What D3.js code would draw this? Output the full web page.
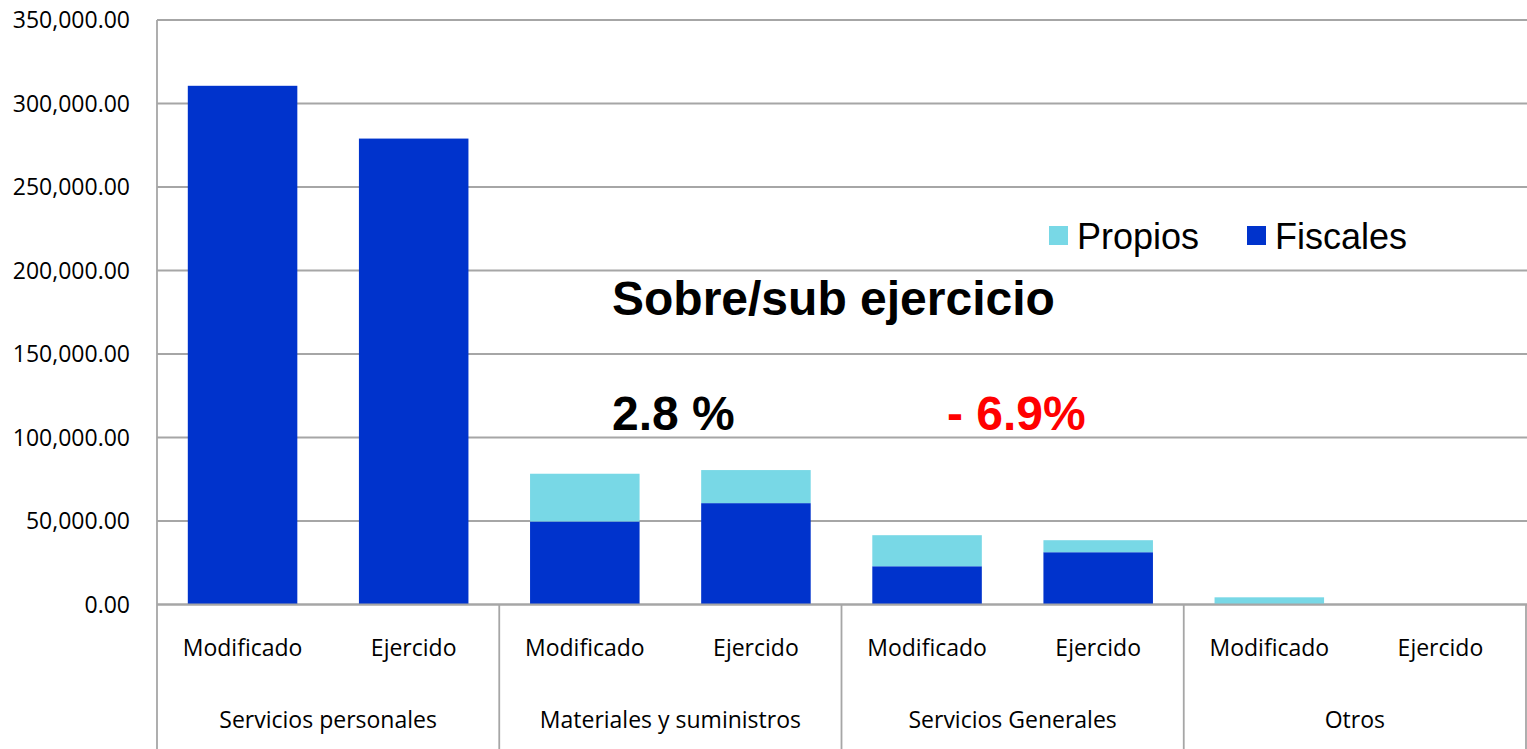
<!DOCTYPE html>
<html lang="es">
<head>
  <meta charset="UTF-8">
  <title>Sobre/sub ejercicio</title>
  <style>
    body { margin: 0; background: #fff; }
    .tick-label { font-family: "Open Sans", sans-serif; font-size: 23px; fill: #000; }
    .cat-label { font-family: "Open Sans", sans-serif; font-size: 23px; fill: #000; }
    .legend-label { font-family: "Liberation Sans", Arial, sans-serif; font-size: 36px; fill: #000; }
    .note { font-family: "Liberation Sans", Arial, sans-serif; font-size: 48px; font-weight: bold; }
  </style>
</head>
<body>
  <div id="chart"></div>
  <script src="https://d3js.org/d3.v7.min.js"></script>
  <script>
    // chart values
    const groups = ["Servicios personales", "Materiales y suministros", "Servicios Generales", "Otros"];
    const subs = ["Modificado", "Ejercido"];
    const fiscales = [310600, 279000, 49700, 60700, 22900, 31300, 0, 250];
    const propios = [0, 0, 28600, 19800, 18600, 7200, 4300, 0];
    const yTicks = [0, 50000, 100000, 150000, 200000, 250000, 300000, 350000];
    const seriesNames = ["Propios", "Fiscales"];

    const width = 1527, height = 749;
    const plotLeft = 157, plotRight = 1526, plotTop = 20, plotBottom = 604.5;

    const colors = { Fiscales: "#0033cc", Propios: "#78d8e6" };
    const gridColor = "#a6a6a6";

    const svg = d3.select("#chart").append("svg")
      .attr("width", width)
      .attr("height", height);

    // one row per bar
    const rows = [];
    groups.forEach((g, gi) => {
      subs.forEach((s, si) => {
        const i = gi * subs.length + si;
        rows.push({ key: i, group: g, sub: s, Fiscales: fiscales[i], Propios: propios[i] });
      });
    });

    const x = d3.scaleBand()
      .domain(rows.map(d => d.key))
      .range([plotLeft, plotRight])
      .paddingInner(0.36)
      .paddingOuter(0.18);

    const xGroup = d3.scaleBand()
      .domain(groups)
      .range([plotLeft, plotRight]);

    const y = d3.scaleLinear()
      .domain([0, 350000])
      .range([plotBottom, plotTop]);

    // gridlines
    svg.append("g")
      .selectAll("line")
      .data(yTicks)
      .join("line")
      .attr("x1", plotLeft)
      .attr("x2", width)
      .attr("y1", d => y(d))
      .attr("y2", d => y(d))
      .attr("stroke", gridColor)
      .attr("stroke-width", 1.8);

    // y tick labels
    const fmt = d3.format(",.2f");
    svg.append("g")
      .selectAll("text")
      .data(yTicks)
      .join("text")
      .attr("class", "tick-label")
      .attr("x", 130)
      .attr("y", d => y(d))
      .attr("dy", "0.36em")
      .attr("text-anchor", "end")
      .text(d => fmt(d));

    // stacked bars
    const stack = d3.stack().keys(["Fiscales", "Propios"]);
    const layers = stack(rows);

    svg.append("g")
      .selectAll("g")
      .data(layers)
      .join("g")
      .attr("fill", d => colors[d.key])
      .selectAll("rect")
      .data(d => d)
      .join("rect")
      .attr("x", d => x(d.data.key))
      .attr("width", x.bandwidth())
      .attr("y", d => y(d[1]))
      .attr("height", d => Math.max(0, y(d[0]) - y(d[1])));

    // axis lines
    svg.append("line")
      .attr("x1", plotLeft).attr("x2", plotLeft)
      .attr("y1", plotTop).attr("y2", height)
      .attr("stroke", gridColor).attr("stroke-width", 1.8);

    svg.append("g")
      .selectAll("line")
      .data(groups)
      .join("line")
      .attr("x1", d => xGroup(d) + xGroup.bandwidth())
      .attr("x2", d => xGroup(d) + xGroup.bandwidth())
      .attr("y1", plotBottom)
      .attr("y2", height)
      .attr("stroke", gridColor)
      .attr("stroke-width", 1.8);

    svg.append("line")
      .attr("x1", plotLeft).attr("x2", width)
      .attr("y1", plotBottom).attr("y2", plotBottom)
      .attr("stroke", gridColor).attr("stroke-width", 1.8);

    // category labels
    svg.append("g")
      .selectAll("text")
      .data(rows)
      .join("text")
      .attr("class", "cat-label")
      .attr("x", d => x(d.key) + x.bandwidth() / 2)
      .attr("y", 656)
      .attr("text-anchor", "middle")
      .text(d => d.sub);

    svg.append("g")
      .selectAll("text")
      .data(groups)
      .join("text")
      .attr("class", "cat-label")
      .attr("x", d => xGroup(d) + xGroup.bandwidth() / 2)
      .attr("y", 728)
      .attr("text-anchor", "middle")
      .text(d => d);

    // legend
    const legendX = [1049, 1247];
    const legend = svg.append("g")
      .selectAll("g")
      .data(seriesNames)
      .join("g")
      .attr("transform", (d, i) => `translate(${legendX[i]},226)`);

    legend.append("rect")
      .attr("width", 19)
      .attr("height", 19)
      .attr("fill", d => colors[d]);

    legend.append("text")
      .attr("class", "legend-label")
      .attr("x", 28)
      .attr("y", 23)
      .text(d => d);

    // annotations
    svg.append("text")
      .attr("class", "note")
      .attr("x", 612)
      .attr("y", 315)
      .attr("fill", "#000")
      .text("Sobre/sub ejercicio");

    svg.append("text")
      .attr("class", "note")
      .attr("x", 612)
      .attr("y", 430)
      .attr("fill", "#000")
      .text("2.8 %");

    svg.append("text")
      .attr("class", "note")
      .attr("x", 947)
      .attr("y", 430)
      .attr("fill", "#ff0000")
      .text("- 6.9%");
  </script>
</body>
</html>
